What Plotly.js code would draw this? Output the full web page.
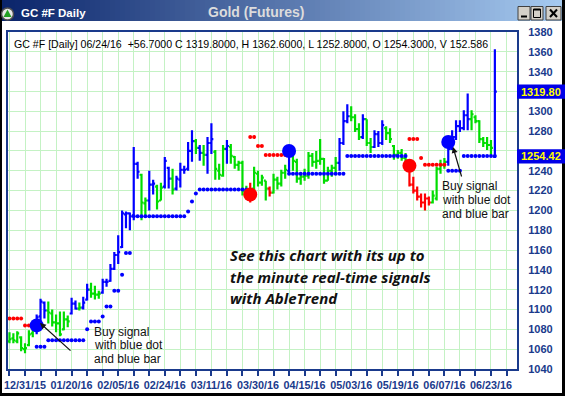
<!DOCTYPE html>
<html><head><meta charset="utf-8">
<script src="https://cdn.plot.ly/plotly-3.0.1.min.js"></script>
<style>html,body{margin:0;padding:0;background:#fff;overflow:hidden}#chart{width:565px;height:396px}</style>
</head><body><div id="chart"></div>
<script>
// ---------------- DATA ----------------
const firstIndex = -4; // bar index of first bar (12/31/15 = 0)
const tickLabels = ['12/31/15','01/20/16','02/05/16','02/24/16','03/11/16','03/30/16','04/15/16','05/03/16','05/19/16','06/07/16','06/23/16'];
const tickLabelIdx = [0,12,24,36,48,60,72,84,96,108,120];

const barOpen = [1068,1071,1068,1072,1060,1064,1076,1079,1093,1107,1099,1096,1087,1086,1080,1090,1096,1106,1101,1102,1110,1120,1116,1115,1117,1128,1129,1141,1155,1163,1196,1197,1195,1247,1236,1207,1210,1226,1224,1210,1224,1243,1232,1222,1231,1241,1242,1260,1270,1263,1258,1256,1268,1259,1240,1235,1262,1264,1254,1246,1248,1220,1219,1222,1237,1228,1230,1222,1218,1231,1227,1238,1240,1256,1249,1232,1234,1235,1255,1249,1250,1252,1230,1240,1243,1248,1268,1290,1295,1294,1282,1274,1292,1268,1264,1277,1268,1283,1278,1265,1256,1258,1253,1240,1226,1220,1214,1208,1212,1208,1212,1242,1246,1249,1262,1274,1285,1283,1296,1292,1294,1290,1272,1268,1266,1254.3];
const barHigh = [1077,1076,1078,1073,1066,1079,1085,1095,1111,1108,1108,1100,1095,1098,1098,1094,1112,1109,1107,1113,1126,1127,1124,1119,1131,1131,1146,1158,1175,1200,1199,1198,1264,1249,1237,1213,1240,1231,1226,1228,1254,1244,1242,1235,1248,1245,1269,1281,1272,1266,1266,1274,1288,1261,1247,1266,1271,1267,1255,1250,1250,1225,1228,1244,1240,1236,1230,1224,1237,1234,1241,1246,1258,1256,1252,1237,1242,1259,1258,1260,1272,1253,1244,1246,1254,1273,1300,1307,1305,1297,1288,1297,1292,1273,1281,1280,1291,1285,1283,1266,1261,1262,1258,1243,1234,1224,1217,1217,1214,1220,1244,1251,1253,1266,1281,1291,1291,1301,1318,1301,1296,1291,1274,1274,1271,1362.6];
const barLow = [1066,1066,1066,1058,1056,1063,1072,1075,1086,1091,1086,1083,1077,1073,1079,1082,1095,1100,1099,1100,1109,1112,1110,1111,1116,1123,1128,1140,1146,1162,1182,1180,1190,1232,1190,1193,1200,1216,1201,1210,1222,1222,1216,1220,1223,1237,1240,1249,1257,1250,1245,1237,1257,1231,1231,1234,1247,1247,1242,1240,1215,1212,1208,1220,1224,1225,1210,1214,1217,1221,1224,1232,1238,1240,1228,1226,1230,1232,1244,1242,1246,1227,1230,1234,1238,1240,1266,1288,1290,1279,1271,1272,1265,1258,1263,1264,1266,1271,1268,1251,1252,1250,1247,1224,1217,1210,1203,1200,1205,1207,1210,1237,1242,1245,1261,1271,1279,1281,1281,1281,1288,1268,1264,1261,1256,1252.8];
const barClose = [1070,1069,1076,1061,1061,1075,1079,1092,1108,1099,1097,1087,1086,1075,1090,1088,1106,1101,1102,1107,1120,1116,1115,1116,1128,1128,1141,1155,1158,1197,1197,1194,1247,1239,1208,1210,1226,1227,1209,1223,1250,1232,1221,1232,1241,1241,1260,1270,1263,1258,1256,1268,1272,1242,1236,1262,1265,1255,1246,1248,1220,1219,1221,1238,1228,1233,1222,1218,1231,1227,1238,1241,1256,1250,1232,1234,1235,1255,1249,1250,1252,1230,1240,1243,1248,1268,1290,1295,1294,1282,1274,1292,1268,1264,1277,1268,1286,1278,1272,1256,1258,1253,1250,1226,1220,1214,1208,1212,1208,1215,1242,1246,1249,1262,1274,1285,1283,1296,1292,1297,1290,1272,1268,1266,1263.1,1319.8];
// AbleTrend colour of each bar: B = blue (up), G = green (neutral), R = red (down)
const barTrend = ('GGGGGGG'+'BBB'+'GGGGGG'+'BB'+'G'+'BB'+'GGG'+'BBBBBBBBBB'+'GG'+'BB'+'GG'+'BB'+'G'+'BBBBB'+'G'+'B'+'G'+'BB'+'GGG'+'B'+'GGGGG'+'R'+'GGGG'+'R'+'GGGG'+'B'+'GGGGGGGGGGGG'+'BBB'+'GGG'+'B'+'GG'+'BBB'+'GGGGGG'+'RRRRRR'+'GGGG'+'BBBBBB'+'GGGGGG'+'B').split('');

// stop-level dots (segments of bars sharing one level)
const buyStopFrom  = [3,6,16,17,20,21,23,25,26,28,42,43,44,45,68,83,109,113];
const buyStopTo    = [5,15,16,19,20,22,24,25,27,41,42,43,44,57,82,98,112,121];
const buyStopLevel = [1062.5,1069,1080,1088,1093,1103,1119,1135,1157,1194,1199,1209,1217,1221,1237,1255,1240,1255];
const sellStopFrom  = [-4,0,58,60,62,99,102,103];
const sellStopTo    = [-1,1,59,61,67,101,102,108];
const sellStopLevel = [1091,1084,1274,1265,1256,1272,1253,1246];

// signal dots
const buySignalIdx = [3,68,109];
const buySignalVal = [1084,1260,1269];
const sellSignalIdx = [58,99];
const sellSignalVal = [1216,1245];

const lastClose = 1319.80;
const stopValue = 1254.42;
const infoText = 'GC #F [Daily] 06/24/16  +56.7000 C 1319.8000, H 1362.6000, L 1252.8000, O 1254.3000, V 152.586';

// ---------------- BUILD ----------------
const W=565,H=396,ML=8,MR=48,MT=32,MB=27;
const PW=W-ML-MR, PH=H-MT-MB;
const fx = px => (px-ML)/PW;
const fy = py => (H-MB-py)/PH;

const colorMap = {B:'#0000ff', G:'#00dd00', R:'#ff0000'};
const traces = [];
['G','B','R'].forEach(t => {
  const xs=[],o=[],h=[],l=[],c=[];
  barTrend.forEach((tt,k)=>{ if(tt===t){ xs.push(firstIndex+k); o.push(barOpen[k]); h.push(barHigh[k]); l.push(barLow[k]); c.push(barClose[k]); } });
  traces.push({type:'ohlc', x:xs, open:o, high:h, low:l, close:c,
    increasing:{line:{color:colorMap[t], width:2.2}}, decreasing:{line:{color:colorMap[t], width:2.2}},
    tickwidth:0.5, hoverinfo:'skip', showlegend:false});
});
function segPoints(from,to,lvl){ const xs=[],ys=[]; from.forEach((f,k)=>{ for(let i=f;i<=to[k];i++){ xs.push(i); ys.push(lvl[k]); } }); return [xs,ys]; }
const bs = segPoints(buyStopFrom,buyStopTo,buyStopLevel);
const ss = segPoints(sellStopFrom,sellStopTo,sellStopLevel);
traces.push({type:'scatter', mode:'markers', x:bs[0], y:bs[1], marker:{color:'#0000ff', size:4}, hoverinfo:'skip'});
traces.push({type:'scatter', mode:'markers', x:ss[0], y:ss[1], marker:{color:'#ff0000', size:4}, hoverinfo:'skip'});
traces.push({type:'scatter', mode:'markers', x:buySignalIdx, y:buySignalVal, marker:{color:'#0000ff', size:14}, hoverinfo:'skip'});
traces.push({type:'scatter', mode:'markers', x:sellSignalIdx, y:sellSignalVal, marker:{color:'#ff0000', size:14}, hoverinfo:'skip'});

// x ticks every 4 bars, labels every 12
const xTickVals=[], xTickText=[];
for(let v=-4; v<=124; v+=4){ xTickVals.push(v); const p=tickLabelIdx.indexOf(v); xTickText.push(p>=0?tickLabels[p]:''); }
const yTickVals=[], yTickText=[];
for(let v=1040; v<=1380; v+=20){ yTickVals.push(v); yTickText.push((v===1320||v===1260)?'':String(v)); }

const navy='#1a3a8c';
const shapes=[];
// title bar gradient
const c0=[10,36,106], c1=[166,202,240];
for(let x=0;x<W;x+=5){ const t=x/(W-5); const c=c0.map((v,k)=>Math.round(v+(c1[k]-v)*t));
  shapes.push({type:'rect', xref:'paper', yref:'paper', x0:fx(x), x1:fx(x+5.6), y0:fy(21), y1:fy(0), fillcolor:`rgb(${c.join(',')})`, line:{width:0}, layer:'above'}); }
// window border
shapes.push({type:'rect', xref:'paper', yref:'paper', x0:fx(0), x1:fx(2), y0:fy(396), y1:fy(0), fillcolor:'#000', line:{width:0}, layer:'above'});
shapes.push({type:'rect', xref:'paper', yref:'paper', x0:fx(562), x1:fx(565), y0:fy(396), y1:fy(0), fillcolor:'#000', line:{width:0}, layer:'above'});
shapes.push({type:'rect', xref:'paper', yref:'paper', x0:fx(0), x1:fx(565), y0:fy(396), y1:fy(393), fillcolor:'#000', line:{width:0}, layer:'above'});
// icon
shapes.push({type:'circle', xref:'paper', yref:'paper', x0:fx(1.5), x1:fx(13.5), y0:fy(20), y1:fy(8), fillcolor:'#e8e8e8', line:{color:'#505050', width:1.5}, layer:'above'});
shapes.push({type:'path', xref:'paper', yref:'paper', path:`M ${fx(7.5)} ${fy(9.5)} L ${fx(11.5)} ${fy(17)} L ${fx(3.5)} ${fy(17)} Z`, fillcolor:'#22a022', line:{width:0}, layer:'above'});
// window buttons
[[518,530],[531,543],[546,561]].forEach(b=>{
  shapes.push({type:'rect', xref:'paper', yref:'paper', x0:fx(b[0]), x1:fx(b[1]), y0:fy(20), y1:fy(6.5), fillcolor:'#d4d0c8', line:{color:'#404040', width:1}, layer:'above'});
});
shapes.push({type:'rect', xref:'paper', yref:'paper', x0:fx(521), x1:fx(527), y0:fy(17.5), y1:fy(15.5), fillcolor:'#000', line:{width:0}, layer:'above'});
shapes.push({type:'rect', xref:'paper', yref:'paper', x0:fx(533.5), x1:fx(540.5), y0:fy(17.5), y1:fy(9), fillcolor:'rgba(0,0,0,0)', line:{color:'#000', width:1}, layer:'above'});
shapes.push({type:'rect', xref:'paper', yref:'paper', x0:fx(533.5), x1:fx(540.5), y0:fy(10.5), y1:fy(9), fillcolor:'#000', line:{width:0}, layer:'above'});
shapes.push({type:'line', xref:'paper', yref:'paper', x0:fx(550), x1:fx(557), y0:fy(9.5), y1:fy(17), line:{color:'#000', width:2}, layer:'above'});
shapes.push({type:'line', xref:'paper', yref:'paper', x0:fx(557), x1:fx(550), y0:fy(9.5), y1:fy(17), line:{color:'#000', width:2}, layer:'above'});
// price boxes on the right axis
[lastClose, stopValue].forEach(v=>{
  shapes.push({type:'rect', xref:'paper', yref:'y', x0:fx(517), x1:fx(565), y0:v-7.2, y1:v+7.2, fillcolor:'#0000e8', line:{width:0}, layer:'above'});
});

const txt = (px,py,text,font,extra)=>Object.assign({xref:'paper', yref:'paper', x:fx(px), y:fy(py), xanchor:'left', yanchor:'middle', text:text, showarrow:false, font:font}, extra||{});
const arial = 'Liberation Sans, Arial, sans-serif';
const big = {family:'Open Sans, sans-serif', size:15, color:'#111', weight:'bold', style:'italic'};
const annotations = [
  txt(19,13,'GC #F Daily',{family:arial, size:11.5, color:'#fff', weight:'bold'}),
  txt(256,12,'Gold (Futures)',{family:arial, size:14, color:'#dcdcdc', weight:'bold'},{xanchor:'center'}),
  txt(12,44,infoText,{family:arial, size:10.6, color:'#000'}),
  txt(228,255,'See this chart with its up to',big),
  txt(228,277,'the minute real-time signals',big),
  txt(228,298,'with AbleTrend',big),
  txt(92,332,'Buy signal',{family:arial, size:12, color:'#111'}),
  txt(92,345,'with blue dot',{family:arial, size:12, color:'#111'}),
  txt(92,359,'and blue bar',{family:arial, size:12, color:'#111'}),
  txt(440,186,'Buy signal',{family:arial, size:12, color:'#111'}),
  txt(440,200,'with blue dot',{family:arial, size:12, color:'#111'}),
  txt(440,214,'and blue bar',{family:arial, size:12, color:'#111'}),
  {xref:'paper', yref:'y', x:fx(519), y:lastClose, xanchor:'left', yanchor:'middle', text:lastClose.toFixed(2), showarrow:false, font:{family:arial, size:11, color:'#ffff00', weight:'bold'}},
  {xref:'paper', yref:'y', x:fx(519), y:stopValue, xanchor:'left', yanchor:'middle', text:stopValue.toFixed(2), showarrow:false, font:{family:arial, size:11, color:'#ffff00', weight:'bold'}},
  {xref:'paper', yref:'paper', x:fx(40), y:fy(323), text:'', showarrow:true, ax:32, ay:29, arrowhead:2, arrowsize:1, arrowwidth:1.2, arrowcolor:'#111'},
  {xref:'paper', yref:'paper', x:fx(453), y:fy(147), text:'', showarrow:true, ax:9, ay:31, arrowhead:2, arrowsize:1, arrowwidth:1.2, arrowcolor:'#111'}
];

const layout = {
  width:W, height:H, margin:{l:ML,r:MR,t:MT,b:MB,pad:0},
  paper_bgcolor:'#fff', plot_bgcolor:'#fff', showlegend:false,
  xaxis:{type:'linear', range:[-4.38,126.7], tickmode:'array', tickvals:xTickVals, ticktext:xTickText,
    ticks:'outside', ticklen:5, tickwidth:2, tickcolor:navy, showgrid:true, gridcolor:'#c4f2c4', gridwidth:1,
    showline:true, mirror:true, linecolor:navy, linewidth:2, zeroline:false, tickangle:0,
    tickfont:{family:arial, size:10.8, color:navy, weight:'bold'}, rangeslider:{visible:false}, fixedrange:true},
  yaxis:{side:'right', range:[1040,1380], tickmode:'array', tickvals:yTickVals, ticktext:yTickText,
    ticks:'', ticklabelstandoff:7, showgrid:true, gridcolor:'#c4f2c4', gridwidth:1,
    showline:true, mirror:true, linecolor:navy, linewidth:2, zeroline:false,
    tickfont:{family:arial, size:11, color:navy, weight:'bold'}, fixedrange:true},
  shapes:shapes, annotations:annotations
};
Plotly.newPlot('chart', traces, layout, {staticPlot:true, displayModeBar:false});
</script></body></html>
